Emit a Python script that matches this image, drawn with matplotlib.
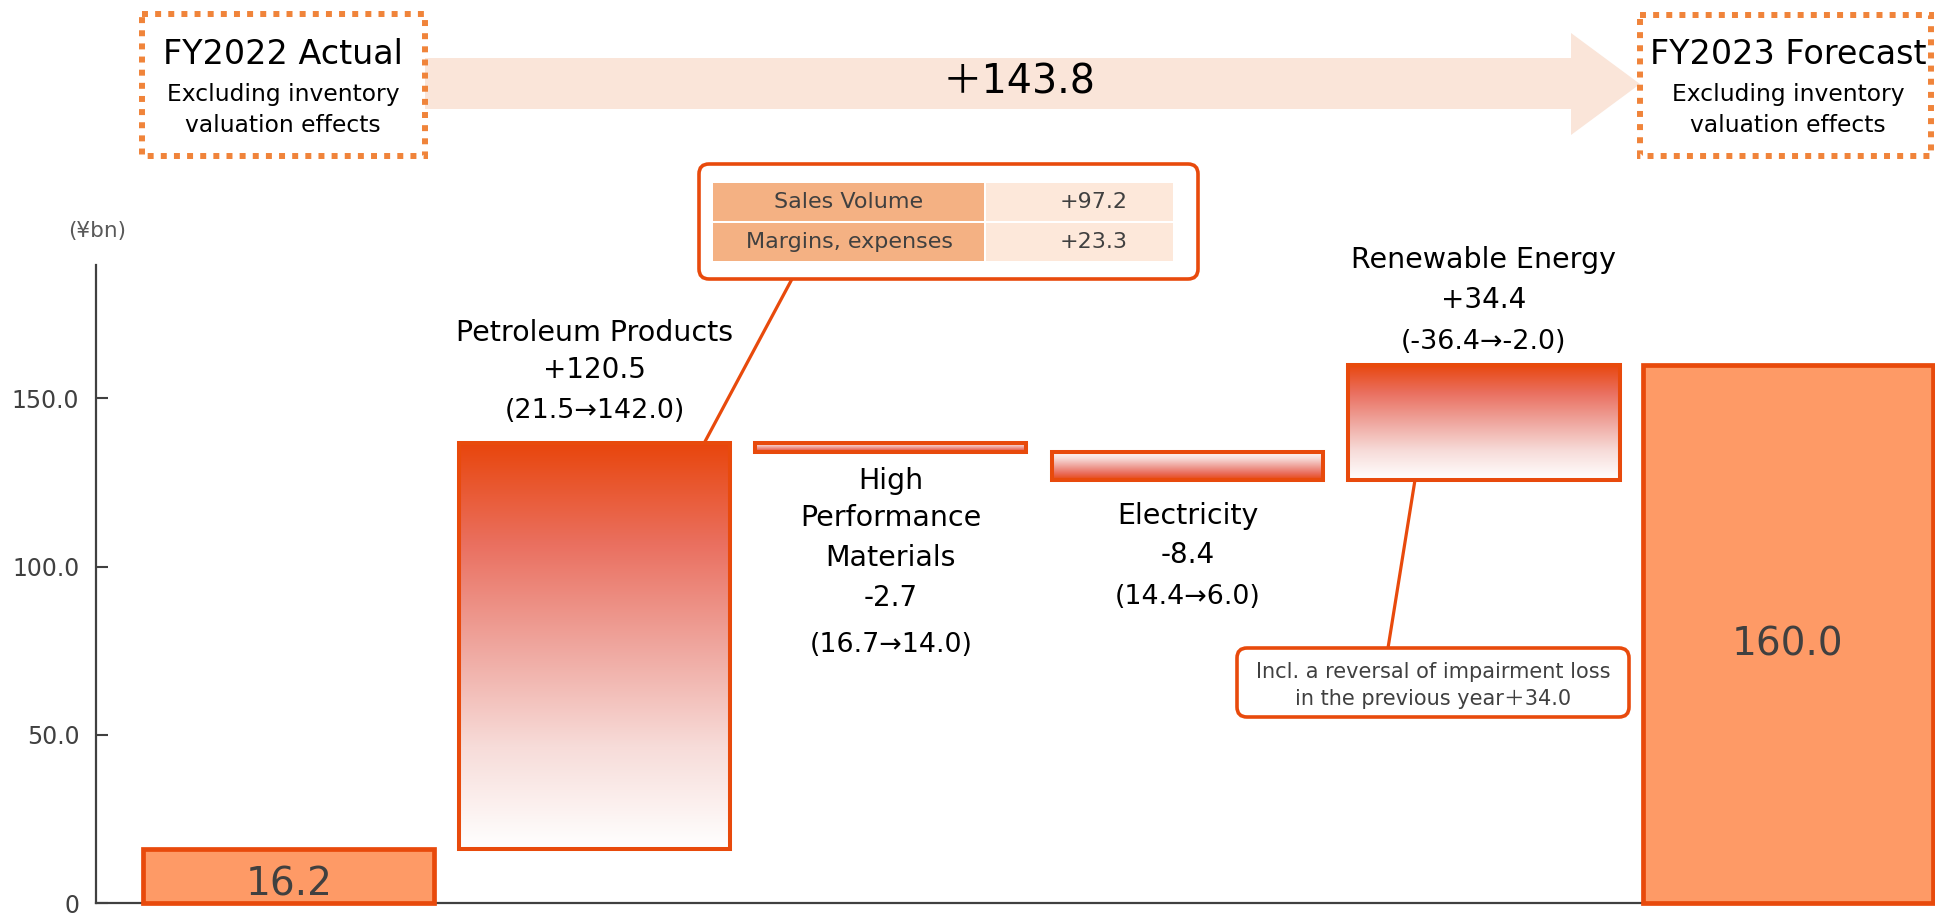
import numpy as np
import matplotlib
matplotlib.use("Agg")
import matplotlib.pyplot as plt
from matplotlib.colors import LinearSegmentedColormap
from matplotlib.patches import Rectangle, FancyBboxPatch, Polygon

# ---------------- data ----------------
start_label = "FY2022 Actual"
end_label = "FY2023 Forecast"
subtitle = "Excluding inventory\nvaluation effects"
start_value = 16.2
end_value = 160.0
segments = ["Petroleum Products", "High\nPerformance\nMaterials", "Electricity", "Renewable Energy"]
deltas = [120.5, -2.7, -8.4, 34.4]
prev_values = [21.5, 16.7, 14.4, -36.4]
next_values = [142.0, 14.0, 6.0, -2.0]
total_change = 143.8
breakdown_items = ["Sales Volume", "Margins, expenses"]
breakdown_values = [97.2, 23.3]
impairment_reversal = 34.0
yticks = [0, 50, 100, 150]
ytick_labels = ["0", "50.0", "100.0", "150.0"]
unit_label = "(¥bn)"

# ---------------- style ----------------
plt.rcParams['font.family'] = ['DejaVu Sans', 'Noto Sans CJK JP']
EDGE = '#E84A0C'
TOTAL_FILL = '#FE9A66'
GRAY = '#404040'
DOT = '#F0843A'
ARROW = '#FAE5D9'

W, H = 1935, 921
fig = plt.figure(figsize=(W / 100, H / 100), dpi=100)
ax = fig.add_axes([96 / W, 18 / H, 1 - 96 / W, 638 / H])
ymax = 638 / 3.364

cmap = LinearSegmentedColormap.from_list(
    'grad', [(0.0, '#FFFFFF'), (0.25, '#F7DCD9'), (0.5, '#EFA69E'),
             (0.75, '#EA7060'), (1.0, '#E8460D')])

centers = np.arange(6) + np.array([-0.031, 0, 0, 0, 0, 0.025])
widths = np.array([0.981, 0.914, 0.914, 0.914, 0.914, 0.978])

# totals
ax.bar([centers[0], centers[5]], [start_value, end_value], width=[widths[0], widths[5]],
       color=TOTAL_FILL, edgecolor=EDGE, linewidth=3.4, zorder=3, clip_on=False)

# floating gradient bars
cum = start_value + np.cumsum(deltas)
prev = np.concatenate([[start_value], cum[:-1]])
grad = np.linspace(0, 1, 256).reshape(-1, 1)
for i, d in enumerate(deltas):
    c = centers[i + 1]
    w = widths[i + 1]
    lo, hi = min(prev[i], cum[i]), max(prev[i], cum[i])
    g = grad if d > 0 else 1 - grad
    ax.imshow(g, extent=[c - w / 2, c + w / 2, lo, hi], origin='lower', cmap=cmap,
              vmin=0, vmax=1, aspect='auto', zorder=2, interpolation='bilinear')
    ax.bar(c, hi - lo, width=w, bottom=lo, fill=False, edgecolor=EDGE,
           linewidth=2.9, zorder=3)

ax.set_xlim(-0.681, 5.521)
ax.set_ylim(0, ymax)

for s in ['top', 'right']:
    ax.spines[s].set_visible(False)
for s in ['left', 'bottom']:
    ax.spines[s].set_color(GRAY)
    ax.spines[s].set_linewidth(1.6)
ax.set_yticks(yticks)
ax.set_yticklabels(ytick_labels)
ax.tick_params(axis='y', direction='in', length=8.6, width=1.5, color=GRAY,
               labelsize=17, labelcolor=GRAY, pad=12)
ax.tick_params(axis='x', bottom=False, labelbottom=False)
ax.set_facecolor('none')

# value labels in totals
ax.text(centers[0], 2.1, f"{start_value:.1f}", ha='center', va='baseline',
        fontsize=28, color=GRAY, zorder=5)
ax.text(centers[5], 73.7, f"{end_value:.1f}", ha='center', va='baseline',
        fontsize=28, color=GRAY, zorder=5)

# segment labels
line_y = [[169.4, 158.4, 146.3],
          [125.4, 114.4, 102.6, 90.7, 76.7],
          [115.0, 103.4, 91.0],
          [191.1, 179.2, 166.8]]
for i, name in enumerate(segments):
    name_lines = name.split("\n")
    lines = name_lines + [f"{deltas[i]:+.1f}",
                          f"({prev_values[i]:.1f}→{next_values[i]:.1f})"]
    sizes = [20.5] * len(name_lines) + [20, 19.4]
    for txt, yy, fs in zip(lines, line_y[i], sizes):
        ax.text(centers[i + 1], yy, txt, ha='center', va='center', fontsize=fs,
                color='black', zorder=5)

# ---------------- overlay (pixel coordinates) ----------------
ov = fig.add_axes([0, 0, 1, 1], zorder=5)
ov.set_xlim(0, W)
ov.set_ylim(H, 0)
ov.axis('off')

def d2o(x, y):
    disp = ax.transData.transform((x, y))
    return ov.transData.inverted().transform(disp)

# big arrow
ov.add_patch(Polygon([(425, 58), (1571, 58), (1571, 33), (1640, 84), (1571, 135),
                      (1571, 109), (425, 109)], closed=True, facecolor=ARROW,
                     edgecolor='none', zorder=1))
ov.text(1019, 82, f"＋{total_change:.1f}", ha='center', va='center', fontsize=28.5,
        color='black', zorder=3)

# dotted boxes
for (x0, y0, w, h, cx, title) in [(142, 14, 283, 142, 283, start_label),
                                   (1640, 15, 291, 141, 1788, end_label)]:
    ov.add_patch(Rectangle((x0, y0), w, h, facecolor='white', edgecolor=DOT,
                           linewidth=4.3, linestyle=(0, (1, 1.2)), zorder=2))
    ov.text(cx, 55, title, ha='center', va='center', fontsize=24, color='black', zorder=3)
    sub = subtitle.split("\n")
    ov.text(cx, 94, sub[0], ha='center', va='center', fontsize=16.8, color='black', zorder=3)
    ov.text(cx, 126, sub[1], ha='center', va='center', fontsize=16.8, color='black', zorder=3)

# unit label
ov.text(97, 231, unit_label, ha='center', va='center', fontsize=15.5, color='#595959')

# connector lines
p1 = d2o(centers[1] + 0.37, cum[0])
ov.plot([p1[0], 792], [p1[1], 279], color=EDGE, lw=2.3, zorder=2, solid_capstyle='butt')
p2 = d2o(centers[4] - 0.233, cum[2])
ov.plot([p2[0], 1388], [p2[1], 648], color=EDGE, lw=2.3, zorder=2, solid_capstyle='butt')

# breakdown callout
ov.add_patch(FancyBboxPatch((699, 164), 499, 115, boxstyle="round,pad=0,rounding_size=10",
                            facecolor='white', edgecolor=EDGE, linewidth=2.6, zorder=3))
row_tops = [183, 223]
for r, (item, val) in enumerate(zip(breakdown_items, breakdown_values)):
    yt = row_tops[r]
    ov.add_patch(Rectangle((713, yt), 271, 38, facecolor='#F4B183', edgecolor='none', zorder=4))
    ov.add_patch(Rectangle((986, yt), 187, 38, facecolor='#FDE8DA', edgecolor='none', zorder=4))
    ov.text(849, yt + 19, item, ha='center', va='center', fontsize=16, color=GRAY, zorder=5)
    ov.text(1094, yt + 19, f"{val:+.1f}", ha='center', va='center', fontsize=16,
            color=GRAY, zorder=5)

# impairment callout
ov.add_patch(FancyBboxPatch((1237, 648), 392, 69, boxstyle="round,pad=0,rounding_size=10",
                            facecolor='white', edgecolor=EDGE, linewidth=2.6, zorder=3))
ov.text(1433, 672, "Incl. a reversal of impairment loss", ha='center', va='center',
        fontsize=15, color=GRAY, zorder=5)
ov.text(1433, 699, f"in the previous year＋{impairment_reversal:.1f}", ha='center',
        va='center', fontsize=15, color=GRAY, zorder=5)

fig.savefig("out.png", dpi=100)
